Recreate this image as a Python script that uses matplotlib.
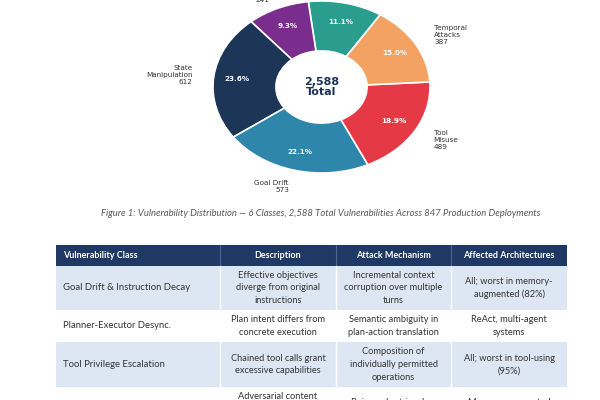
import matplotlib.pyplot as plt
from matplotlib.patches import Rectangle

# donut data (order: counter-clockwise from the teal wedge)
classes = ['Planner\nDesync', 'Memory\nPoisoning', 'State\nManipulation',
           'Goal Drift', 'Tool\nMisuse', 'Temporal\nAttacks']
counts = [286, 241, 612, 573, 489, 387]
colors = ['#2a9d8f', '#7b2d8e', '#1d3557', '#2e86ab', '#e63946', '#f4a261']
total_label = '2,588\nTotal'

caption = ('Figure 1: Vulnerability Distribution \u2014 6 Classes, 2,588 Total '
           'Vulnerabilities Across 847 Production Deployments')

# table data
headers = ['Vulnerability Class', 'Description', 'Attack Mechanism',
           'Affected Architectures']
rows = [
    ['Goal Drift & Instruction Decay',
     'Effective objectives\ndiverge from original\ninstructions',
     'Incremental context\ncorruption over multiple\nturns',
     'All; worst in memory-\naugmented (82%)'],
    ['Planner-Executor Desync.',
     'Plan intent differs from\nconcrete execution',
     'Semantic ambiguity in\nplan-action translation',
     'ReAct, multi-agent\nsystems'],
    ['Tool Privilege Escalation',
     'Chained tool calls grant\nexcessive capabilities',
     'Composition of\nindividually permitted\noperations',
     'All; worst in tool-using\n(95%)'],
    ['Memory Poisoning',
     'Adversarial content\npersists across\nsessions',
     'Poisoned retrieval or\nstored context',
     'Memory-augmented\nagents'],
]

col_edges = [56, 220, 336, 451, 567]
row_edges = [245, 266, 310, 342, 387, 431]
row_fill = ['#dde7f3', 'white', '#dde7f3', 'white']

fig = plt.figure(figsize=(6, 4), dpi=100)

# page axes in pixel coordinates
page = fig.add_axes([0, 0, 1, 1])
page.set_xlim(0, 600)
page.set_ylim(400, 0)
page.axis('off')

page.text(321, 213, caption, ha='center', va='center', fontsize=6.85,
          style='italic', color='#595959', family='Lato')

# table
page.add_patch(Rectangle((col_edges[0], row_edges[0]),
                         col_edges[-1] - col_edges[0], row_edges[1] - row_edges[0],
                         facecolor='#1f3864', edgecolor='none'))
for i in range(len(rows)):
    page.add_patch(Rectangle((col_edges[0], row_edges[i + 1]),
                             col_edges[-1] - col_edges[0],
                             row_edges[i + 2] - row_edges[i + 1],
                             facecolor=row_fill[i], edgecolor='none'))
for x in col_edges[1:-1]:
    page.plot([x, x], [row_edges[0], row_edges[1]], color='#4a6590', lw=0.8)
    page.plot([x, x], [row_edges[1], row_edges[-1]], color='#ffffff', lw=1.0)

for j, h in enumerate(headers):
    yc = (row_edges[0] + row_edges[1]) / 2
    if j == 0:
        page.text(col_edges[0] + 7, yc, h, ha='left', va='center', fontsize=6.5,
                  fontweight='bold', color='white', family='Lato')
    else:
        page.text((col_edges[j] + col_edges[j + 1]) / 2, yc, h, ha='center',
                  va='center', fontsize=6.5, fontweight='bold', color='white',
                  family='Lato')

for i, r in enumerate(rows):
    yc = (row_edges[i + 1] + row_edges[i + 2]) / 2
    for j, cell in enumerate(r):
        if j == 0:
            page.text(col_edges[0] + 7, yc, cell, ha='left', va='center',
                      fontsize=6.8, color='#333333', family='Lato')
        else:
            page.text((col_edges[j] + col_edges[j + 1]) / 2, yc, cell,
                      ha='center', va='center', fontsize=6.7, color='#333333',
                      family='Lato', linespacing=1.55)

# donut (stretched horizontally like the reference)
cx, cy, rx, ry = 321.5, 87, 108.5, 86
pie = fig.add_axes([(cx - 1.5 * rx) / 600, (400 - cy - 1.5 * ry) / 400,
                    3 * rx / 600, 3 * ry / 400])
labels = [f'{c}\n{n}' for c, n in zip(classes, counts)]
wedges, texts, autotexts = pie.pie(
    counts, labels=labels, colors=colors, startangle=57.2,
    autopct='%1.1f%%', pctdistance=0.78, labeldistance=1.2,
    wedgeprops=dict(width=0.58, edgecolor='white', linewidth=1.2),
    textprops=dict(fontsize=5.2, color='#333333'))
for t in autotexts:
    t.set_color('white')
    t.set_fontweight('bold')
    t.set_fontsize(5.2)
pie.text(0, 0, total_label, ha='center', va='center', fontsize=8,
         fontweight='bold', color='#1d3557', linespacing=1.0)
pie.set_aspect('auto')
pie.set_xlim(-1.5, 1.5)
pie.set_ylim(-1.5, 1.5)
pie.axis('off')

fig.savefig('out.png', dpi=100)
